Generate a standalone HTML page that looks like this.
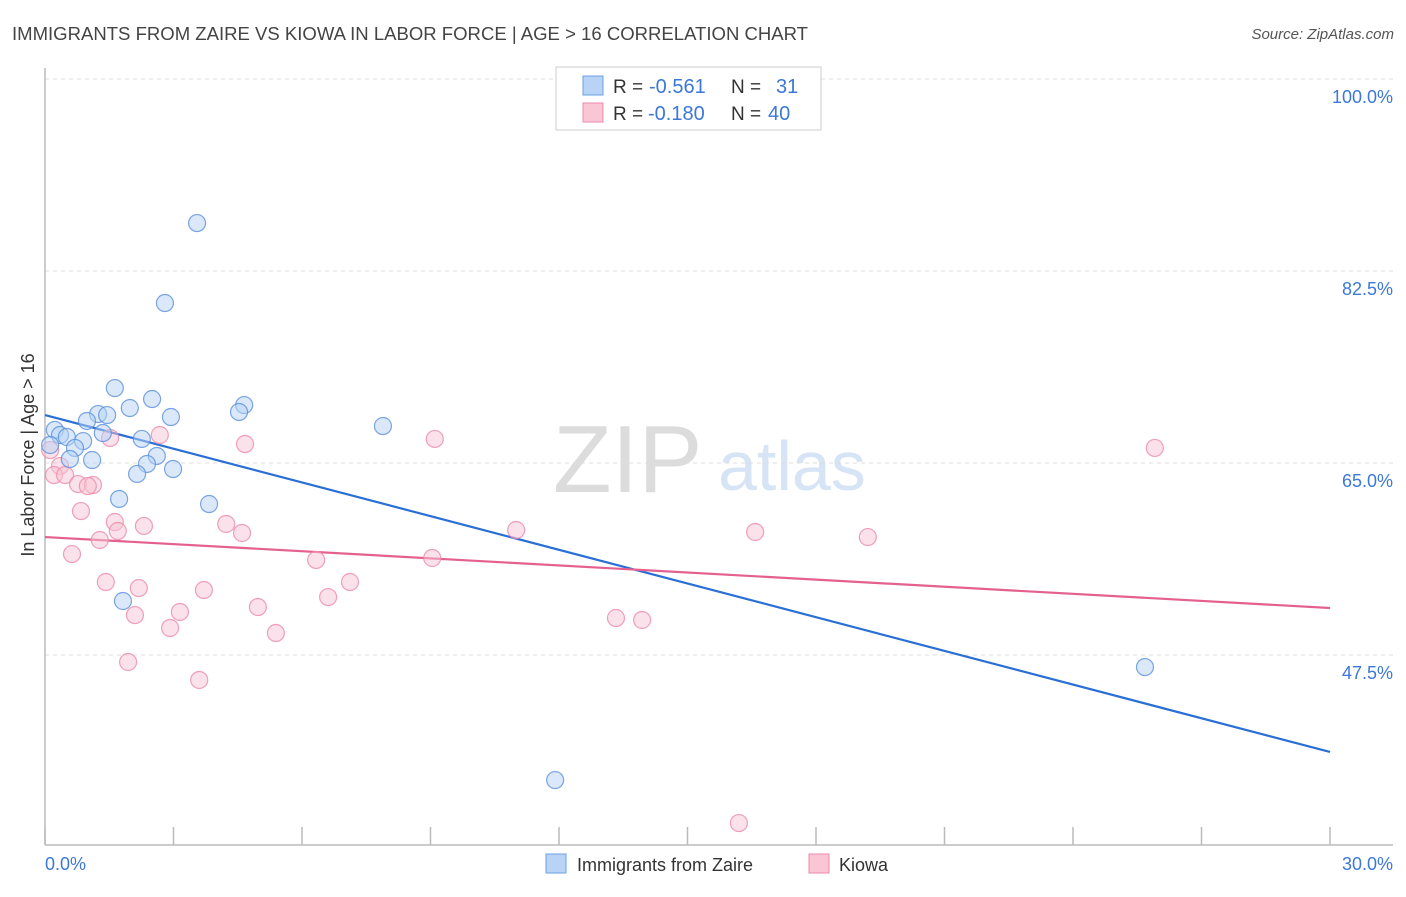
<!DOCTYPE html>
<html><head><meta charset="utf-8"><style>
body{margin:0;background:#fff;font-family:"Liberation Sans",sans-serif}
svg text{font-family:"Liberation Sans",sans-serif}
</style></head><body>
<svg id="chart" width="1406" height="892">
<text x="12" y="40" font-size="18" fill="#444" textLength="796" lengthAdjust="spacingAndGlyphs">IMMIGRANTS FROM ZAIRE VS KIOWA IN LABOR FORCE | AGE &gt; 16 CORRELATION CHART</text>
<text x="1394" y="39" font-size="15" fill="#555" font-style="italic" text-anchor="end">Source: ZipAtlas.com</text>
<g>
<text x="553" y="492" font-size="96" fill="#dcdcdc" font-family="Liberation Serif">ZIP</text>
<text x="718" y="490" font-size="70" fill="#d6e4f5">atlas</text>
</g>
<g id="grid"></g><g id="axes"></g><g id="lines"></g><g id="pts"></g>
<text transform="translate(34,455) rotate(-90)" font-size="18" fill="#333" text-anchor="middle">In Labor Force | Age &gt; 16</text>
<text x="45" y="870" font-size="18" fill="#3c78d8">0.0%</text>
<text x="1393" y="870" font-size="18" fill="#3c78d8" text-anchor="end">30.0%</text>
<g>
<rect x="556" y="67" width="265" height="63" fill="#fff" stroke="#ccc"/>
<rect x="583" y="76" width="20" height="19" fill="#b8d3f5" stroke="#6a9fe0"/>
<rect x="583" y="103" width="20" height="19" fill="#fac6d6" stroke="#ec8aaa"/>
<text x="613" y="93" font-size="19" fill="#333">R =</text>
<text x="649" y="93" font-size="20" fill="#3c78d8">-0.561</text>
<text x="731" y="93" font-size="19" fill="#333">N =</text>
<text x="776" y="93" font-size="20" fill="#3c78d8">31</text>
<text x="613" y="120" font-size="19" fill="#333">R =</text>
<text x="648" y="120" font-size="20" fill="#3c78d8">-0.180</text>
<text x="731" y="120" font-size="19" fill="#333">N =</text>
<text x="768" y="120" font-size="20" fill="#3c78d8">40</text>
</g>
<g>
<rect x="546" y="854" width="20" height="19" fill="#b8d3f5" stroke="#6a9fe0"/>
<text x="577" y="871" font-size="18" fill="#333">Immigrants from Zaire</text>
<rect x="809" y="854" width="20" height="19" fill="#fac6d6" stroke="#ec8aaa"/>
<text x="839" y="871" font-size="18" fill="#333">Kiowa</text>
</g>
</svg>
<script>
const yTicks=[100,82.5,65,47.5];
const yTickLabels=["100.0%","82.5%","65.0%","47.5%"];
const xTicks=[0,3,6,9,12,15,18,21,24,27,30];
const zaireX=[3.55,2.80,1.63,2.50,1.98,1.24,1.45,0.98,2.94,4.65,4.53,7.89,0.23,0.35,0.51,1.35,2.26,0.89,0.70,2.61,0.58,1.10,2.38,2.15,2.99,1.73,3.83,1.82,25.68,11.91,0.12];
const zaireY=[86.87,79.58,71.83,70.83,70.01,69.46,69.37,68.83,69.19,70.28,69.65,68.37,68.01,67.55,67.37,67.73,67.19,67.00,66.37,65.64,65.36,65.27,64.91,64.00,64.45,61.72,61.26,52.42,46.40,36.10,66.64];
const kiowaX=[0.12,0.35,0.21,0.47,0.77,1.12,1.52,2.68,0.84,1.63,2.31,1.70,1.28,0.63,4.23,4.60,4.67,9.10,25.91,11.00,16.58,19.21,9.04,6.33,7.12,1.42,2.19,6.61,3.71,4.97,3.15,2.10,2.92,5.39,13.33,13.94,1.94,3.60,16.20,1.00];
const kiowaY=[66.18,64.72,63.90,63.90,63.08,62.99,67.28,67.55,60.62,59.62,59.26,58.80,57.98,56.70,59.44,58.62,66.73,67.19,66.37,58.89,58.71,58.25,56.34,56.16,54.15,54.15,53.60,52.78,53.42,51.87,51.42,51.14,49.96,49.50,50.87,50.69,46.86,45.22,32.18,62.90];
const zaireTrend=[69.37,38.66];
const kiowaTrend=[58.25,51.78];
const NS="http://www.w3.org/2000/svg";
const xS=v=>45+v/30*1285;
const yS=v=>79+(100-v)*10.971;
function mk(t,a,p){const e=document.createElementNS(NS,t);for(const k in a)e.setAttribute(k,a[k]);p.appendChild(e);return e;}
const grid=document.getElementById('grid'),axes=document.getElementById('axes'),lines=document.getElementById('lines'),pts=document.getElementById('pts');
yTicks.forEach((t,i)=>{
 const l=mk('line',{x1:45,x2:1393,y1:yS(t),y2:yS(t),stroke:'#ddd','stroke-dasharray':'4,4'},grid);
 
 
 const tx=mk('text',{x:1393,y:yS(t)+24,'font-size':18,fill:'#3c78d8','text-anchor':'end'},grid);
 tx.textContent=yTickLabels[i];
 
 
});
const ya=mk('line',{x1:45,x2:45,y1:68,y2:845,stroke:'#bbb','stroke-width':1.5},axes);


const xa=mk('line',{x1:45,x2:1393,y1:845,y2:845,stroke:'#bbb','stroke-width':1.5},axes);


xTicks.forEach(t=>{
 const l=mk('line',{x1:xS(t),x2:xS(t),y1:827,y2:845,stroke:'#bbb','stroke-width':1.5},axes);
 
 
});
function pointsFor(X,Y,fill,stroke,name){
 X.forEach((x,i)=>{
  const c=mk('circle',{cx:xS(x),cy:yS(Y[i]),r:8.5,fill:fill,'fill-opacity':0.5,stroke:stroke,'stroke-opacity':0.8,'stroke-width':1.2},pts);
  
  
 });
}
pointsFor(kiowaX,kiowaY,'#f8c4d4','#ec8aaa','kiowa-point');
pointsFor(zaireX,zaireY,'#b6d1f3','#5a90dc','zaire-point');
const zl=mk('line',{x1:xS(0),y1:yS(zaireTrend[0]),x2:xS(30),y2:yS(zaireTrend[1]),stroke:'#2a6fd6','stroke-width':2.2},lines);


const kl=mk('line',{x1:xS(0),y1:yS(kiowaTrend[0]),x2:xS(30),y2:yS(kiowaTrend[1]),stroke:'#e4608e','stroke-width':2.2},lines);


</script>
</body></html>
